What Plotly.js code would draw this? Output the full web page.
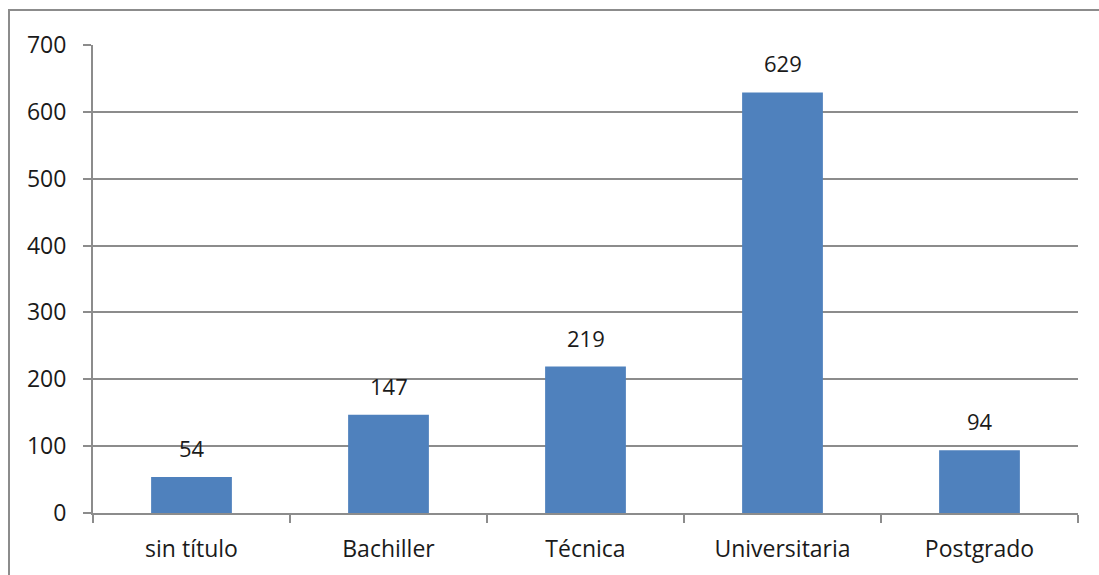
<!DOCTYPE html>
<html>
<head>
<meta charset="utf-8">
<script src="https://cdn.plot.ly/plotly-3.0.1.min.js"></script>
<style>html,body{margin:0;padding:0;background:#fff;}#chart{width:1099px;height:575px;}</style>
</head>
<body>
<div id="chart"></div>
<script>
const categories = ["sin título", "Bachiller", "Técnica", "Universitaria", "Postgrado"];
const values = [54, 147, 219, 629, 94];
const yTicks = [0, 100, 200, 300, 400, 500, 600, 700];

const fontFam = "Open Sans, Liberation Sans, sans-serif";
const trace = {
  type: "bar",
  x: categories,
  y: values,
  width: 0.41,
  marker: {color: "#4f81bd", line: {width: 0}},
  hoverinfo: "none"
};

const annotations = categories.map((c, i) => ({
  x: c, y: values[i], xref: "x", yref: "y",
  text: String(values[i]), showarrow: false,
  yanchor: "bottom", yshift: 12,
  font: {family: fontFam, size: 22, color: "#1a1a1a"}
}));

const layout = {
  width: 1099, height: 575,
  margin: {l: 93, r: 21, t: 45, b: 62},
  paper_bgcolor: "#ffffff", plot_bgcolor: "#ffffff",
  showlegend: false,
  xaxis: {
    type: "category",
    tickson: "boundaries",
    ticks: "outside", ticklen: 8, tickwidth: 2, tickcolor: "#8c8c8c",
    showline: true, linecolor: "#8c8c8c", linewidth: 2,
    showgrid: false, zeroline: false,
    ticklabelstandoff: 14,
    tickfont: {family: fontFam, size: 23, color: "#1a1a1a"},
    automargin: false
  },
  yaxis: {
    range: [0, 700],
    tickvals: yTicks,
    ticktext: yTicks.map(String),
    ticks: "outside", ticklen: 8, tickwidth: 2, tickcolor: "#8c8c8c",
    showline: true, linecolor: "#8c8c8c", linewidth: 2,
    showgrid: true, gridcolor: "#8c8c8c", gridwidth: 2,
    zeroline: false,
    ticklabelstandoff: 12,
    tickfont: {family: fontFam, size: 23, color: "#1a1a1a"},
    automargin: false
  },
  annotations: annotations,
  shapes: [{
    type: "rect", xref: "paper", yref: "paper",
    x0: (9 - 93) / 985, x1: (1110 - 93) / 985,
    y0: (513 - 590) / 468, y1: (513 - 10) / 468,
    line: {color: "#8c8c8c", width: 2}, fillcolor: "rgba(0,0,0,0)", layer: "below"
  }]
};

Plotly.newPlot("chart", [trace], layout, {displayModeBar: false, staticPlot: true});
</script>
</body>
</html>
